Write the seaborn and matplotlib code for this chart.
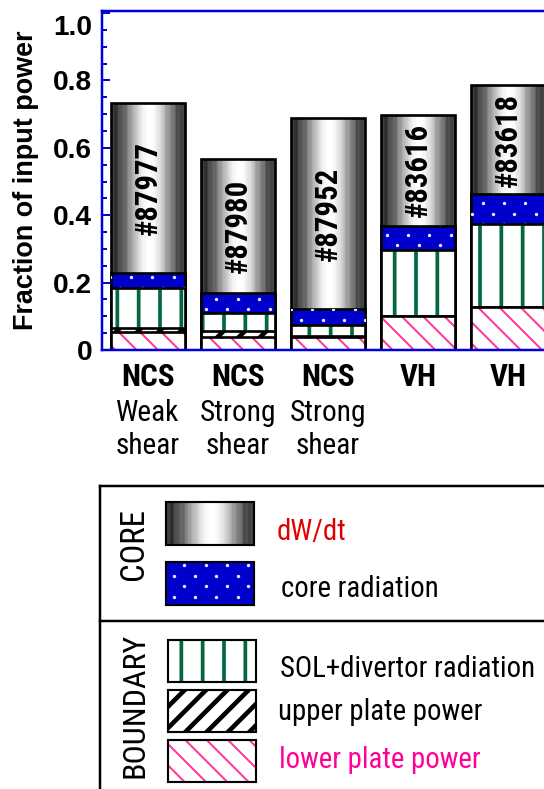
import numpy as np
import pandas as pd
import matplotlib
matplotlib.use("Agg")
import matplotlib.pyplot as plt
import seaborn as sns
from matplotlib import font_manager, transforms
from matplotlib.patches import Rectangle
from matplotlib.lines import Line2D
from matplotlib.ticker import MultipleLocator

# ---- data: fraction of input power per channel, one bar per discharge ----
shots = ["#87977", "#87980", "#87952", "#83616", "#83618"]
regime = ["NCS", "NCS", "NCS", "VH", "VH"]
shear = ["Weak\nshear", "Strong\nshear", "Strong\nshear", "", ""]
lower_plate = [0.054, 0.038, 0.040, 0.101, 0.129]
upper_plate = [0.010, 0.018, 0.003, 0.000, 0.000]
sol_div_rad = [0.119, 0.053, 0.032, 0.196, 0.245]
core_rad = [0.045, 0.059, 0.046, 0.072, 0.088]
dwdt = [0.504, 0.399, 0.568, 0.328, 0.324]

ytick_vals = [0.0, 0.2, 0.4, 0.6, 0.8, 1.0]
ytick_labels = ["0", "0.2", "0.4", "0.6", "0.8", "1.0"]

# ---- styling ----
installed = {f.name for f in font_manager.fontManager.ttflist}
WIDE = "Liberation Sans"
narrow_candidates = ["Roboto Condensed", "Liberation Sans Narrow", "Arial Narrow"]
NARROW = next((n for n in narrow_candidates if n in installed), None)
# condensed labels: use a narrow face if present, else a smaller regular face
if NARROW:
    NFAM, NSCALE = [NARROW, "DejaVu Sans"], 1.0
else:
    NFAM, NSCALE = [WIDE, "DejaVu Sans"], 0.84
plt.rcParams["font.family"] = [WIDE, "DejaVu Sans"]

FS_SHOT = 17.3 * NSCALE
FS_CAT_BOLD = 17.5 * NSCALE
FS_CAT = 16.5 * NSCALE
FS_CORE = 18.5 * NSCALE
FS_BOUND = 18.0 * NSCALE
FS_KEY = 16.2 * NSCALE

AXIS_BLUE = "#0000dd"
CORE_BLUE = "#0000cc"
SOL_GREEN = "#006b3c"
PINK = "#ff3399"
EDGE_LW = 1.5
BAR_W = 0.82

DPI = 128
W, H = 544, 789
fig = plt.figure(figsize=(W / DPI, H / DPI), dpi=DPI)
fig.patch.set_facecolor("white")
ax = fig.add_axes([102 / W, 1 - 350 / H, 442 / W, 339 / H])

df = pd.DataFrame({"shot": shots, "lower": lower_plate, "upper": upper_plate,
                   "sol": sol_div_rad, "core": core_rad, "dwdt": dwdt})
df["c_upper"] = df["lower"] + df["upper"]
df["c_sol"] = df["c_upper"] + df["sol"]
df["c_core"] = df["c_sol"] + df["core"]
df["c_total"] = df["c_core"] + df["dwdt"]

# horizontal shading for the stored-energy (dW/dt) segment: dark rims, bright middle
ncol = 64
tcol = (np.arange(ncol) + 0.5) / ncol
shade = 0.22 + 0.78 * np.abs(np.cos(np.pi * (tcol - 0.52))) ** 2.0
shade = shade + 0.09 * np.sin(2 * np.pi * 11 * tcol) * np.sin(2 * np.pi * 3.7 * tcol) * (1 - shade)
shade = np.clip(shade, 0, 1)


def set_hatch_lw(p, lw):
    if hasattr(p, "set_hatch_linewidth"):
        p.set_hatch_linewidth(lw)


def bar_layer(col, z):
    n0 = len(ax.patches)
    sns.barplot(data=df, x="shot", y=col, order=shots, width=BAR_W,
                errorbar=None, ax=ax)
    new = list(ax.patches[n0:])
    for p in new:
        p.set_zorder(z)
    return new


def outline(patches, z):
    for p in patches:
        p.set_facecolor("none")
        p.set_edgecolor("black")
        p.set_linewidth(EDGE_LW)
        p.set_hatch(None)
        p.set_zorder(z)


# dW/dt (top of stack): shaded image clipped to the bar
tot = bar_layer("c_total", 2.2)
outline(tot, 2.2)
for p in tot:
    x0, w, h = p.get_x(), p.get_width(), p.get_height()
    im = ax.imshow(shade[None, :], cmap="gray", vmin=0, vmax=1,
                   extent=(x0, x0 + w, 0, h), aspect="auto",
                   interpolation="nearest", zorder=2.1)
    im.set_clip_path(p)

# core radiation
core_p = bar_layer("c_core", 3)
for p in core_p:
    p.set_facecolor(CORE_BLUE)
    p.set_edgecolor("black")
    p.set_linewidth(EDGE_LW)

# SOL + divertor radiation
sol_p = bar_layer("c_sol", 4)
for p in sol_p:
    p.set_facecolor("white")
    p.set_edgecolor(SOL_GREEN)
    p.set_linewidth(0)
    p.set_hatch("|")
    set_hatch_lw(p, 2.1)
outline(bar_layer("c_sol", 4.1), 4.1)

# upper plate power
up_p = bar_layer("c_upper", 5)
for p in up_p:
    p.set_facecolor("white")
    p.set_edgecolor("black")
    p.set_linewidth(EDGE_LW)
    p.set_hatch("//")
    set_hatch_lw(p, 2.6)

# lower plate power
lo_p = bar_layer("lower", 6)
for p in lo_p:
    p.set_facecolor("white")
    p.set_edgecolor(PINK)
    p.set_linewidth(0)
    p.set_hatch("\\\\")
    set_hatch_lw(p, 1.1)
outline(bar_layer("lower", 6.1), 6.1)

# shot numbers inside the dW/dt segment
for i, s in enumerate(shots):
    yc = df["c_core"][i] + df["dwdt"][i] / 2
    ax.text(i, yc, s, rotation=90, ha="center", va="center",
            fontsize=FS_SHOT, fontweight="bold", family=NFAM, zorder=10)

# ---- axes ----
ax.set_xlim(-0.51, 4.40)
ax.set_ylim(0, 1.006)
ax.set_xlabel("")
ax.set_xticks([])
ax.tick_params(axis="x", length=0, labelbottom=False)
ax.set_yticks(ytick_vals)
ax.set_yticklabels(ytick_labels)
ax.yaxis.set_minor_locator(MultipleLocator(0.05))
ax.tick_params(axis="y", which="major", direction="in", length=4.5, width=1.1,
               color=AXIS_BLUE, pad=5.6, labelsize=15.75)
ax.tick_params(axis="y", which="minor", direction="in", length=3.0, width=1.1,
               color=AXIS_BLUE)
for lab in ax.get_yticklabels():
    lab.set_fontweight("bold")
ax.spines["right"].set_visible(False)
for side in ("left", "top", "bottom"):
    ax.spines[side].set_color(AXIS_BLUE)
    ax.spines[side].set_linewidth(1.4)
    ax.spines[side].set_zorder(8)
ax.set_ylabel("Fraction of input power", fontsize=15.2, fontweight="bold")
ax.yaxis.set_label_coords(-0.1425, 0.5)

# overlay in figure pixels (origin top-left) for category labels and the key
ov = fig.add_axes([0, 0, 1, 1])
ov.set_xlim(0, W)
ov.set_ylim(H, 0)
ov.axis("off")

# dotted texture for core radiation, on a fixed pixel grid
DOT_DX, DOT_DY = 21.3, 10.65
DOT_X0, DOT_Y0 = 184.3, 565.0


def dot_grid(x_lo, x_hi, y_lo, y_hi):
    pts = []
    j0 = int(np.floor((y_lo - DOT_Y0) / DOT_DY)) - 1
    j1 = int(np.ceil((y_hi - DOT_Y0) / DOT_DY)) + 1
    for j in range(j0, j1 + 1):
        y = DOT_Y0 + j * DOT_DY
        off = (j % 2) * DOT_DX / 2
        i0 = int(np.floor((x_lo - DOT_X0 - off) / DOT_DX)) - 1
        i1 = int(np.ceil((x_hi - DOT_X0 - off) / DOT_DX)) + 1
        for i in range(i0, i1 + 1):
            pts.append((DOT_X0 + off + i * DOT_DX, y))
    return np.array(pts)


DOT_KW = dict(marker="o", ls="none", ms=1.9, mew=0, color="#e8e8ff")
inv = ax.transData.inverted()
for p in core_p:
    bb = p.get_window_extent()
    pts = dot_grid(bb.x0, bb.x1, H - bb.y1, H - bb.y0)
    disp = np.column_stack([pts[:, 0], H - pts[:, 1]])
    dat = inv.transform(disp)
    ln, = ax.plot(dat[:, 0], dat[:, 1], zorder=3.05, **DOT_KW)
    ln.set_clip_path(p)

# category labels under the bars
xy_tr = transforms.blended_transform_factory(ax.transData, ov.transData)
for i, (r, s) in enumerate(zip(regime, shear)):
    ov.text(i, 386, r, transform=xy_tr, ha="center", va="baseline",
            fontsize=FS_CAT_BOLD, fontweight="bold", family=NFAM)
    if s:
        for k, line in enumerate(s.split("\n")):
            ov.text(i, 421 + 33 * k, line, transform=xy_tr, ha="center",
                    va="baseline", fontsize=FS_CAT, family=NFAM)

# ---- key ----
box_lw = 1.4
ov.add_line(Line2D([100, W + 5], [486, 486], color="black", lw=box_lw))
ov.add_line(Line2D([100, 100], [486, H + 5], color="black", lw=box_lw))
ov.add_line(Line2D([100, W + 5], [621, 621], color="black", lw=box_lw))
ov.text(134, 544, "CORE", rotation=90, ha="center", va="center",
        fontsize=FS_CORE, family=NFAM)
ov.text(135, 705, "BOUNDARY", rotation=90, ha="center", va="center",
        fontsize=FS_BOUND, family=NFAM)

# dW/dt swatch
sw = Rectangle((166, 502), 88, 43, facecolor="none", edgecolor="black", lw=1.2, zorder=3)
ov.add_patch(sw)
im = ov.imshow(shade[None, :], cmap="gray", vmin=0, vmax=1,
               extent=(166, 254, 545, 502), aspect="auto",
               interpolation="nearest", zorder=2)
im.set_clip_path(sw)
# core radiation swatch
sw = Rectangle((166, 562), 88, 43, facecolor=CORE_BLUE, edgecolor="black", lw=1.2, zorder=2)
ov.add_patch(sw)
pts = dot_grid(166, 254, 562, 605)
ln, = ov.plot(pts[:, 0], pts[:, 1], zorder=2.5, **DOT_KW)
ln.set_clip_path(sw)
# SOL swatch
sw = Rectangle((168, 640), 88, 42, facecolor="white", edgecolor=SOL_GREEN, lw=0, hatch="|", zorder=2)
set_hatch_lw(sw, 2.1)
ov.add_patch(sw)
ov.add_patch(Rectangle((168, 640), 88, 42, facecolor="none", edgecolor="black", lw=1.2, zorder=3))
# upper plate swatch
sw = Rectangle((168, 690), 88, 42, facecolor="white", edgecolor="black", lw=1.2, hatch="//", zorder=2)
set_hatch_lw(sw, 2.6)
ov.add_patch(sw)
# lower plate swatch
sw = Rectangle((168, 740), 88, 42, facecolor="white", edgecolor=PINK, lw=0, hatch="\\\\", zorder=2)
set_hatch_lw(sw, 1.1)
ov.add_patch(sw)
ov.add_patch(Rectangle((168, 740), 88, 42, facecolor="none", edgecolor="black", lw=1.2, zorder=3))

key_text = [(277, 540, "dW/dt", "#e00000"),
            (281, 597, "core radiation", "black"),
            (280, 677, "SOL+divertor radiation", "black"),
            (278, 720, "upper plate power", "black"),
            (279, 768, "lower plate power", "#ff0099")]
for x, y, t, c in key_text:
    ov.text(x, y, t, ha="left", va="baseline", fontsize=FS_KEY,
            color=c, family=NFAM)

ov.set_xlim(0, W)
ov.set_ylim(H, 0)

# the top tick label sits a little below its tick
top_tick = ax.yaxis.get_major_ticks()[-1]
top_tick.label1.set_transform(top_tick.label1.get_transform() +
                              transforms.ScaledTranslation(0, -12 / DPI, fig.dpi_scale_trans))

fig.savefig("out.png", dpi=DPI, facecolor="white")
